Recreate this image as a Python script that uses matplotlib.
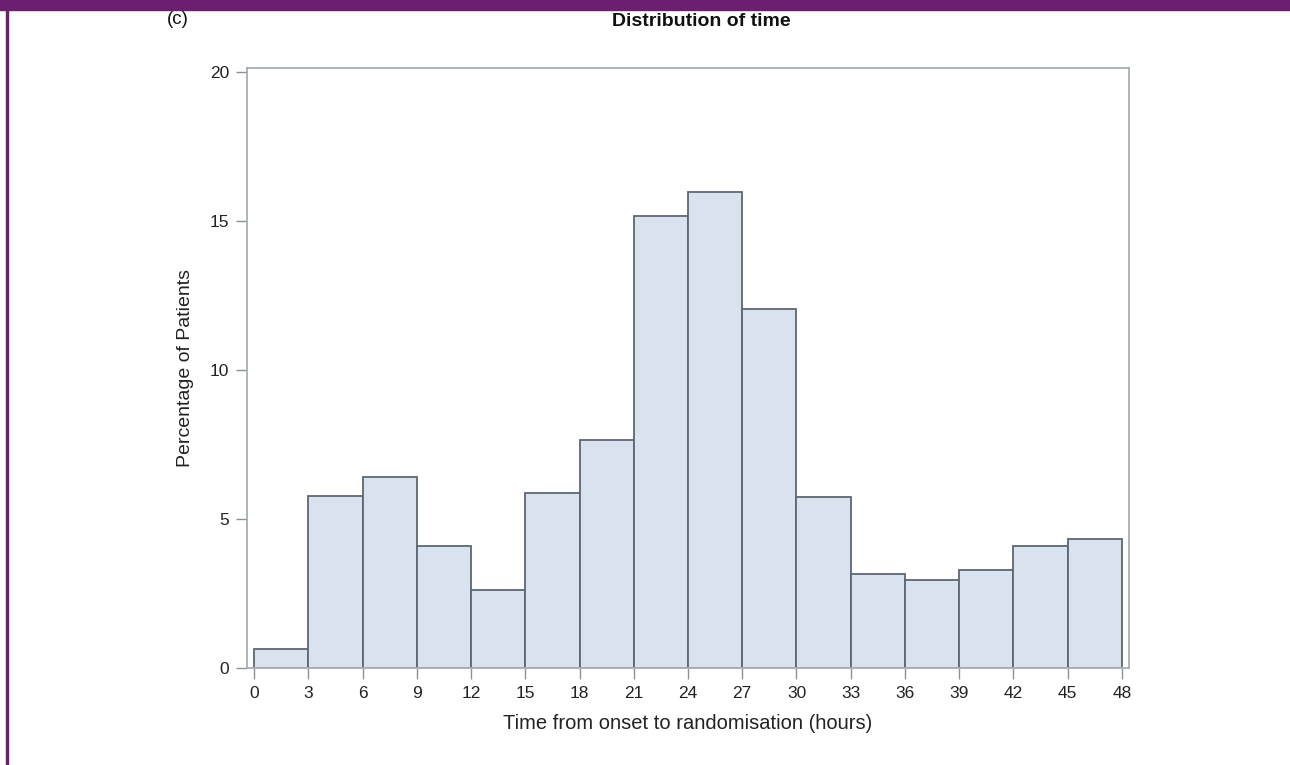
import numpy as np
import matplotlib.pyplot as plt
from matplotlib.patches import Rectangle

# histogram bins (hours) and percentage of patients per bin
bin_edges = [0, 3, 6, 9, 12, 15, 18, 21, 24, 27, 30, 33, 36, 39, 42, 45, 48]
percent = [0.63, 5.77, 6.4, 4.1, 2.62, 5.87, 7.65, 15.17, 16.0, 12.05,
           5.75, 3.15, 2.95, 3.28, 4.1, 4.32]
x_ticks = list(range(0, 49, 3))
y_ticks = [0, 5, 10, 15, 20]

plt.rcParams['font.family'] = ['Liberation Sans', 'DejaVu Sans']

fig = plt.figure(figsize=(12.9, 7.65), dpi=100)
ax = fig.add_axes([247 / 1290, 1 - 668 / 765, (1129 - 247) / 1290, (668 - 68) / 765])

widths = np.diff(bin_edges)
ax.bar(bin_edges[:-1], percent, width=widths, align='edge',
       color='#d9e3ef', edgecolor='#5f6670', linewidth=1.3)

ax.set_xlim(-0.39, 48.39)
ax.set_ylim(0, 20.15)
ax.set_xticks(x_ticks)
ax.set_yticks(y_ticks)

for s in ax.spines.values():
    s.set_color('#a7aeb6')
    s.set_linewidth(1.3)

ax.tick_params(axis='both', direction='out', length=8, width=1,
               color='#8a9099', labelsize=12.5, labelcolor='#222222', pad=5)

ax.set_xlabel('Time from onset to randomisation (hours)', fontsize=14.5,
              color='#222222', labelpad=9)
ax.set_ylabel('Percentage of Patients', fontsize=14, color='#222222', labelpad=11)

fig.text(701 / 1290, 1 - 21 / 765, 'Distribution of time', ha='center', va='center',
         fontsize=14, fontweight='bold', color='#111111')
fig.text(178 / 1290, 1 - 20 / 765, '(c)', ha='center', va='center',
         fontsize=13.5, color='#111111')

# purple frame pieces
fig.patches.append(Rectangle((0, 1 - 10 / 765), 1, 10 / 765, transform=fig.transFigure,
                             color='#6b1f6e', zorder=10))
fig.patches.append(Rectangle((5.5 / 1290, 0), 2 / 1290, 1, transform=fig.transFigure,
                             color='#6b1f6e', zorder=10))

fig.savefig('out.png', dpi=100)
